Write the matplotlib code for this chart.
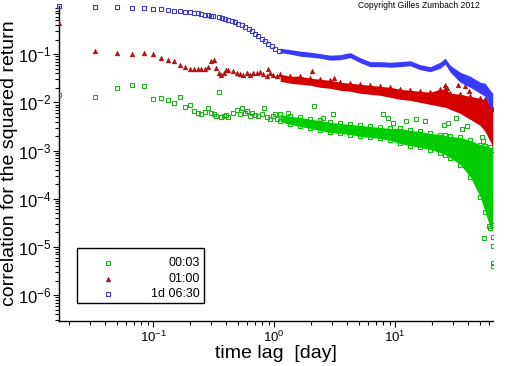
import matplotlib
matplotlib.use('Agg')
import matplotlib.pyplot as plt
from matplotlib.patches import Rectangle
from matplotlib.ticker import FixedLocator, LogLocator, NullFormatter

plt.rcParams['font.family'] = ['Liberation Sans', 'DejaVu Sans']
plt.rcParams['mathtext.default'] = 'regular'

# Sparse lags (24 min steps, in days) and values ##########
lag_k = [0.0167, 0.0333, 0.05, 0.0667, 0.0833, 0.1, 0.1167, 0.1333, 0.15,
         0.1667, 0.1833, 0.2, 0.2167, 0.2333, 0.25, 0.2667, 0.2833]

blue_lag = lag_k + [0.30, 0.315, 0.347, 0.37, 0.394, 0.419, 0.447, 0.476, 0.507,
                    0.541, 0.575, 0.614, 0.654, 0.697, 0.742, 0.791, 0.843,
                    0.898, 0.957, 1.02, 1.09]
blue_val = [0.99, 0.953, 0.953, 0.896, 0.896, 0.853, 0.853, 0.813, 0.776, 0.776,
            0.740, 0.740, 0.705, 0.705, 0.671, 0.640, 0.640,
            0.625, 0.61, 0.582, 0.555, 0.528, 0.504, 0.48, 0.457, 0.416, 0.396,
            0.36, 0.327, 0.297, 0.257, 0.234, 0.202, 0.184, 0.159, 0.145,
            0.131, 0.119]

red_lag = lag_k + [0.30, 0.3167, 0.3333, 0.35, 0.3667, 0.3833, 0.40, 0.4167,
                   0.461, 0.492, 0.524, 0.558, 0.594, 0.634, 0.675, 0.719,
                   0.766, 0.816, 0.871, 0.927, 0.987, 1.05,
                   0.887, 2.05, 3.1, 25.9, 26.7, 33.3, 37.9, 40.4, 55.4]
red_val = [0.443, 0.117, 0.1035, 0.0986, 0.1035, 0.0986, 0.0837, 0.076, 0.0705,
           0.0604, 0.0536, 0.0487, 0.0487, 0.0487, 0.0503, 0.0503, 0.0543,
           0.0725, 0.076, 0.0528, 0.0416, 0.0365, 0.0402, 0.0464, 0.0464,
           0.0449, 0.0416, 0.0383, 0.0365, 0.0402, 0.0365, 0.0416, 0.0402,
           0.0428, 0.0383, 0.0353, 0.0402, 0.0365, 0.0353,
           0.0487, 0.0449, 0.0327, 0.0226, 0.0202, 0.0226, 0.0219, 0.0172, 0.01155]

green_lag = lag_k + [0.30, 0.3167, 0.3333, 0.35, 0.3667, 0.3833, 0.40, 0.4167,
                     0.461, 0.492, 0.524, 0.541, 0.575, 0.594, 0.634, 0.654,
                     0.697, 0.742, 0.791, 0.832, 0.871, 0.927, 0.987, 1.02, 1.05,
                     1.31, 2.15, 2.55, 3.09, 7.91, 8.71, 9.68, 12.4, 15.0, 17.5,
                     25.1, 27.5, 32.1, 35.6, 39.1, 52.0, 53.7, 54.7, 60.2,
                     64.0, 64.0, 64.0, 64.0]
green_val = [0.0145, 0.0131, 0.0202, 0.0234, 0.0223, 0.0119, 0.0125, 0.0114,
             0.00986, 0.0131, 0.00813, 0.00895, 0.00671, 0.0061, 0.00582, 0.0064,
             0.0075, 0.0061, 0.00582, 0.00528, 0.0167, 0.00504, 0.00528, 0.00554,
             0.00504,
             0.0061, 0.00705, 0.00582, 0.00776, 0.0061, 0.00671, 0.0052, 0.0061,
             0.00554, 0.0052, 0.00582, 0.00776, 0.0050, 0.00457, 0.0051, 0.00562,
             0.00443,
             0.0061, 0.00825, 0.0048, 0.00562, 0.00562, 0.0048, 0.00377, 0.00407,
             0.00449, 0.00407, 0.00343, 0.00369, 0.0048, 0.00274, 0.00316,
             0.00193, 0.00156, 1.52e-5, 2.65e-5, 1.64e-5, 1.05e-5, 4.6e-6, 4.0e-6]

# Dense part: band of points, upper / lower edge ##########
band_lag = [1.12, 1.36, 1.64, 1.99, 2.40, 2.90, 3.51, 4.25, 5.14, 6.21, 7.51,
            9.09, 11.0, 13.3, 16.1, 19.5, 23.6, 25.9, 28.5, 34.5, 41.7, 50.4,
            55.4, 61.0, 64.0]
blue_up = [0.133, 0.124, 0.1155, 0.110, 0.1024, 0.0953, 0.0976, 0.1075, 0.0845,
           0.0698, 0.0698, 0.0681, 0.0698, 0.0732, 0.0604, 0.055, 0.0681, 0.0825,
           0.059, 0.0422, 0.0348, 0.0261, 0.0249, 0.0178, 0.0154]
blue_lo = [0.1075, 0.100, 0.0908, 0.0866, 0.0825, 0.075, 0.0768, 0.0845, 0.0665,
           0.055, 0.055, 0.0536, 0.055, 0.0576, 0.0475, 0.0432, 0.0511, 0.0619,
           0.0422, 0.0261, 0.0205, 0.0154, 0.0133, 0.00825, 0.00715]
red_up = [0.0383, 0.0348, 0.0348, 0.0316, 0.0301, 0.0287, 0.0261, 0.0249, 0.0237,
          0.0226, 0.0215, 0.0205, 0.0187, 0.0178, 0.0170, 0.0162, 0.0187, 0.0187,
          0.0154, 0.0147, 0.0133, 0.0121, 0.0110, 0.00953, 0.00715]
red_lo = [0.0274, 0.0249, 0.0237, 0.0226, 0.0205, 0.0196, 0.0178, 0.0170, 0.0154,
          0.0147, 0.0140, 0.0127, 0.01155, 0.0110, 0.0100, 0.00908, 0.00825,
          0.0079, 0.00715, 0.0059, 0.00443, 0.00332, 0.00249, 0.00154, 0.00121]
green_up = [0.00562, 0.0051, 0.00487, 0.00443, 0.00422, 0.00383, 0.00365,
            0.00348, 0.00332, 0.00316, 0.00301, 0.00287, 0.00287, 0.00261,
            0.00249, 0.00226, 0.00215, 0.00205, 0.00196, 0.00187, 0.00162,
            0.00133, 0.00127, 0.00116, 0.00105]
green_lo = [0.00402, 0.00348, 0.00316, 0.00287, 0.00261, 0.00237, 0.00226,
            0.00215, 0.00196, 0.00187, 0.00178, 0.00162, 0.0014, 0.00127,
            0.00116, 0.00105, 0.000908, 0.000825, 0.000715, 0.00051, 0.000287,
            0.00011, 5.36e-5, 2.49e-5, 2.87e-5]

labels = ['00:03', '01:00', '1d 06:30']

GREEN_M, GREEN_F = '#22b022', '#00cc00'
RED_M, RED_F = '#b01010', '#d40000'
BLUE_M, BLUE_F = '#3c3cc8', '#3a3aff'

fig = plt.figure(figsize=(5.12, 3.66), dpi=100)
ax = fig.add_axes([0.1152, 0.1230, 0.8471, 0.8607])
ax.set_xscale('log')
ax.set_yscale('log')

sq = dict(ls='none', marker='s', ms=3, mfc='none', mew=0.8)
tri = dict(ls='none', marker='^', ms=3.5, mew=0.3)

# green
ax.fill_between(band_lag, green_lo, green_up, color=GREEN_F, lw=0, zorder=2)
ax.plot(band_lag, green_up, mec=GREEN_F, zorder=2, **sq)
ax.plot(band_lag, green_lo, mec=GREEN_F, zorder=2, **sq)
ax.plot(green_lag, green_val, mec=GREEN_M, zorder=3, **sq)
# red
ax.fill_between(band_lag, red_lo, red_up, color=RED_F, lw=0, zorder=4)
ax.plot(band_lag, red_up, mfc=RED_F, mec=RED_F, zorder=4, **tri)
ax.plot(red_lag, red_val, mfc=RED_M, mec=RED_M, zorder=5, **tri)
# blue
ax.fill_between(band_lag, blue_lo, blue_up, color=BLUE_F, lw=0, zorder=6)
ax.plot(blue_lag, blue_val, mec=BLUE_M, zorder=7, clip_on=False, **sq)

ax.set_xlim(1 / 60, 64)
ax.set_ylim(2.9e-7, 1.0)

# Axes and ticks ##########
for s in ['top', 'right']:
    ax.spines[s].set_visible(False)
ax.spines['left'].set_linewidth(1.0)
ax.spines['bottom'].set_linewidth(1.0)

ax.yaxis.set_major_locator(FixedLocator([1e-6, 1e-5, 1e-4, 1e-3, 1e-2, 1e-1]))
ax.yaxis.set_minor_locator(LogLocator(base=10, subs=range(2, 10), numticks=20))
ax.yaxis.set_minor_formatter(NullFormatter())
ax.xaxis.set_minor_locator(LogLocator(base=10, subs=range(2, 10), numticks=20))
ax.xaxis.set_minor_formatter(NullFormatter())

ax.tick_params(axis='both', which='major', direction='out', length=4.5, width=0.8)
ax.tick_params(axis='both', which='minor', direction='out', length=3, width=0.8)
ax.tick_params(axis='y', which='major', labelsize=12, pad=1)
ax.tick_params(axis='x', which='major', labelsize=9.5, pad=2)

ax.set_xlabel('time lag  [day]', fontsize=14)
ax.set_ylabel('correlation for the squared return', fontsize=14)
ax.xaxis.set_label_coords(0.5, -0.075)
ax.yaxis.set_label_coords(-0.095, 0.5)

# Legend box ##########
ax.add_patch(Rectangle((0.041, 0.056), 0.293, 0.175, transform=ax.transAxes,
                       fill=False, ec='black', lw=1.0, zorder=10))
leg_y = [0.183, 0.132, 0.085]
leg_style = [dict(marker='s', mfc='none', mec=GREEN_M, mew=0.8, ms=3),
             dict(marker='^', mfc=RED_M, mec=RED_M, mew=0.3, ms=3.5),
             dict(marker='s', mfc='none', mec=BLUE_M, mew=0.8, ms=3)]
for yy, lab, st in zip(leg_y, labels, leg_style):
    ax.plot([0.113], [yy], transform=ax.transAxes, ls='none', zorder=11, **st)
    ax.text(0.325, yy, lab, transform=ax.transAxes, ha='right', va='center',
            fontsize=9, zorder=11)

fig.text(0.9375, 0.986, 'Copyright Gilles Zumbach 2012', ha='right', va='center',
         fontsize=6.2)

fig.savefig('out.png', dpi=100, facecolor='white')
